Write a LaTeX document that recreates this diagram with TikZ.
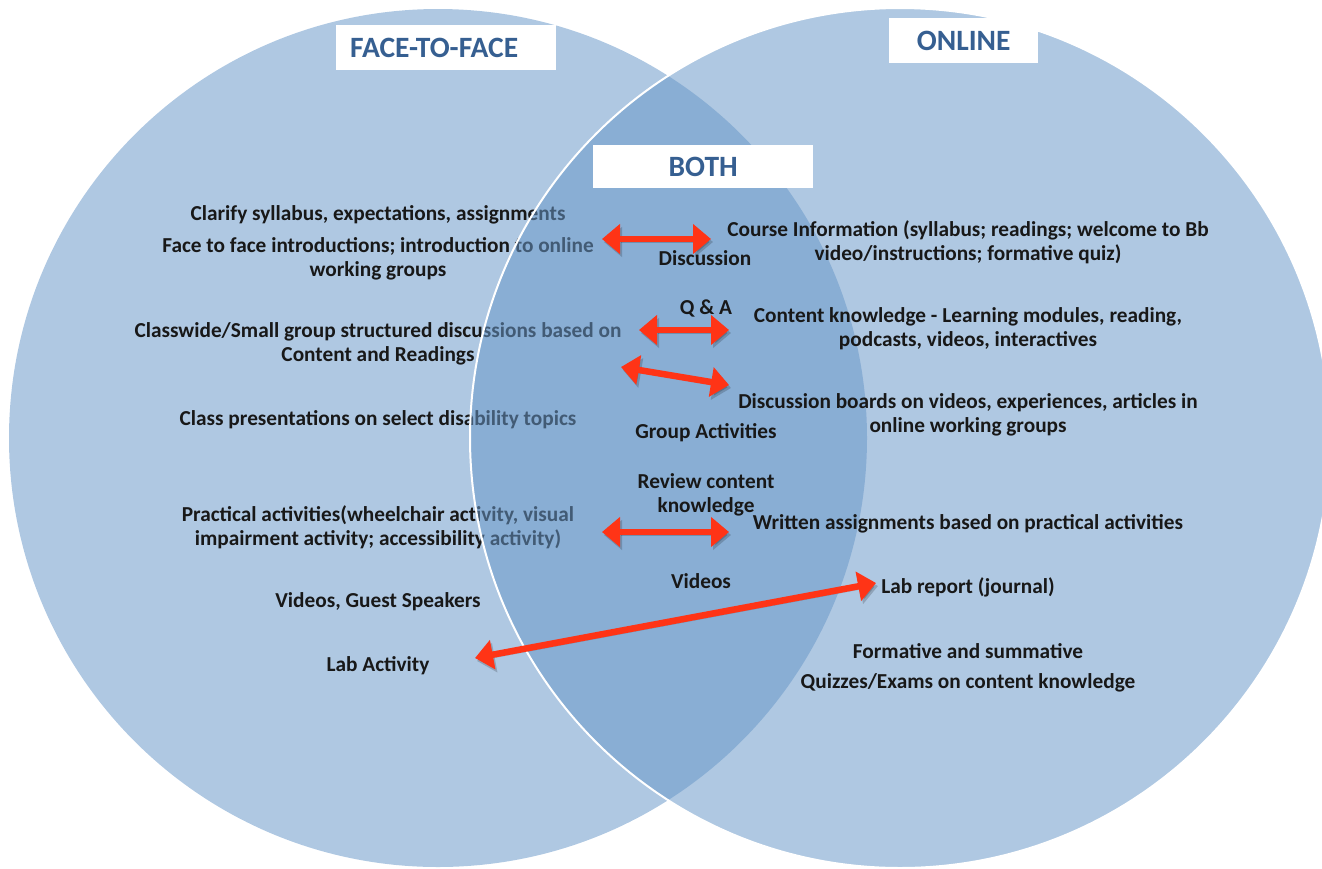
\documentclass[tikz,border=0pt]{standalone}
\usepackage{fontspec}
\setmainfont{Carlito}
\usetikzlibrary{arrows.meta}
\definecolor{lightblue}{RGB}{175,200,226}
\definecolor{rightblue}{RGB}{104,151,200}
\definecolor{ttlblue}{HTML}{365F91}
\definecolor{txtcol}{RGB}{24,24,24}
\definecolor{arrred}{RGB}{255,52,22}
\tikzset{
  txt/.style={font=\bfseries\fontsize{21.3}{24}\selectfont, text=txtcol, align=center, inner sep=0pt},
  ttl/.style={fill=white, text=ttlblue, font=\bfseries\fontsize{29.5}{30}\selectfont, inner sep=0pt, minimum height=45pt},
  arr/.style={draw=arrred, line width=6.5pt,
    {Triangle[length=18pt,width=29pt]}-{Triangle[length=18pt,width=29pt]},
    preaction={draw=black, opacity=0.18, transform canvas={shift={(2pt,-3pt)}}}},
}
\begin{document}
\begin{tikzpicture}[x=1pt,y=-1pt]
\useasboundingbox (0,0) rectangle (1322,868);
% left circle
\fill[lightblue] (438,438) circle[radius=429pt];
% title of left circle
\node[ttl, minimum width=220pt, text width=192pt, align=left, anchor=north west, inner xsep=14pt] (f2f) at (336,25) {FACE-TO-FACE};
% left texts (under the online circle)
\node[txt] (l1) at (378,215) {Clarify syllabus, expectations, assignments};
\node[txt] (l2) at (378,258.5) {Face to face introductions; introduction to online\\working groups};
\node[txt] (l3) at (378,343.5) {Classwide/Small group structured discussions based on\\Content and Readings};
\node[txt] (l4) at (378,420) {Class presentations on select disability topics};
\node[txt] (l5) at (378,527.5) {Practical activities(wheelchair activity, visual\\impairment activity; accessibility activity)};
\node[txt] (l6) at (378,602) {Videos, Guest Speakers};
\node[txt] (l7) at (378,666) {Lab Activity};
% right circle
\fill[rightblue, opacity=0.53] (900,438) circle[radius=430pt];
\draw[white, line width=2pt] (900,438) circle[radius=430pt];
% title boxes
\node[ttl, minimum width=149pt, anchor=north west] (onl) at (889,18) {ONLINE};
\node[ttl, minimum width=220pt, minimum height=43pt, anchor=north west] (both) at (593,145) {BOTH};
% middle texts
\node[txt] (m1) at (705,258.5) {Discussion};
\node[txt] (m2) at (706,308.5) {Q \& A};
\node[txt] (m3) at (706,432.5) {Group Activities};
\node[txt] (m4) at (706,494.5) {Review content\\knowledge};
\node[txt] (m5) at (701,581.5) {Videos};
% right texts
\node[txt] (r1) at (968,242.5) {Course Information (syllabus; readings; welcome to Bb\\video/instructions; formative quiz)};
\node[txt] (r2) at (968,328.5) {Content knowledge - Learning modules, reading,\\podcasts, videos, interactives};
\node[txt] (r3) at (968,414.5) {Discussion boards on videos, experiences, articles in\\online working groups};
\node[txt] (r4) at (968,523.5) {Written assignments based on practical activities};
\node[txt] (r5) at (968,587.5) {Lab report (journal)};
\node[txt] (r6) at (968,651.5) {Formative and summative};
\node[txt] (r7) at (968,682.5) {Quizzes/Exams on content knowledge};
% arrow end points
\coordinate (a1l) at (602,239);
\coordinate (a1r) at (711,239);
\coordinate (a2l) at (639,330);
\coordinate (a2r) at (729,330);
\coordinate (a3l) at (621,367);
\coordinate (a3r) at (729,385);
\coordinate (a4l) at (602,532);
\coordinate (a4r) at (729,532);
\coordinate (a5l) at (475,658);
\coordinate (a5r) at (876,583);
\draw[arr] (a1l) -- (a1r);
\draw[arr] (a2l) -- (a2r);
\draw[arr] (a3l) -- (a3r);
\draw[arr] (a4l) -- (a4r);
\draw[arr] (a5l) -- (a5r);
\end{tikzpicture}
\end{document}
